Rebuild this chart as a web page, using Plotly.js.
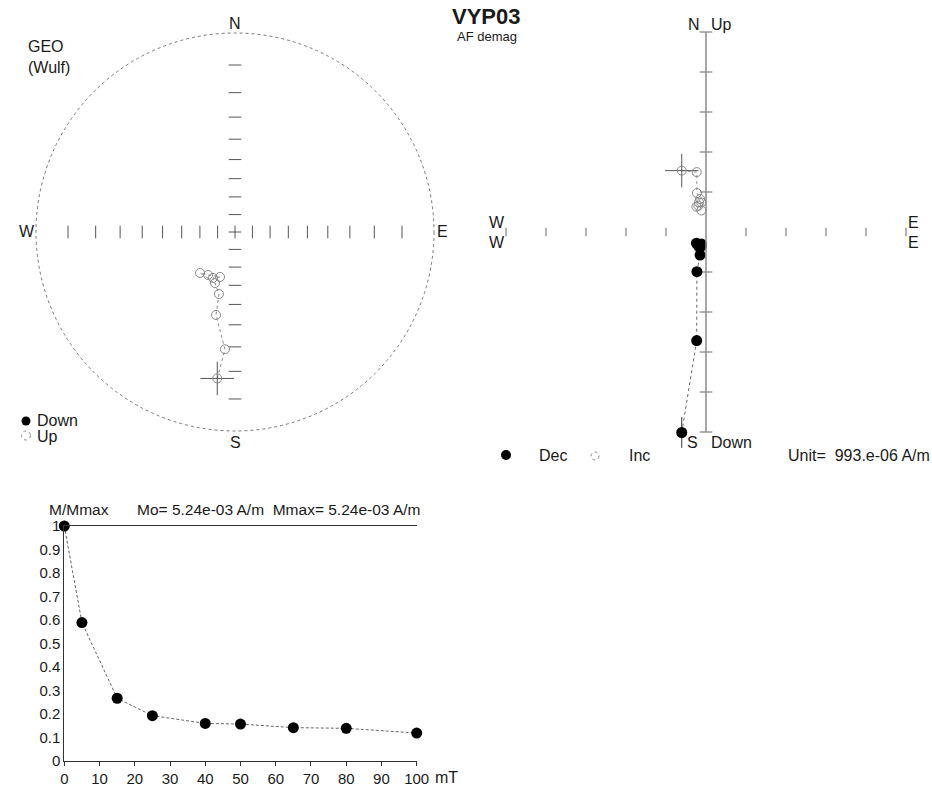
<!DOCTYPE html>
<html><head><meta charset="utf-8">
<script src="https://cdn.plot.ly/plotly-3.0.1.min.js"></script>
<style>html,body{margin:0;padding:0;background:#fff;}#chart{width:932px;height:787px;}</style>
</head><body><div id="chart"></div>
<script>
// ---- data ----
const steps  = [0, 5, 15, 25, 40, 50, 65, 80, 100];           // AF field, mT
const decl   = [186.9, 184.9, 192.9, 194.5, 205.6, 198.4, 212.1, 220.5, 201.4];
const incl   = [-16.9, -28.8, -43.7, -54.3, -61.3, -63.2, -61.4, -59.7, -59.2];
const mRatio = [1.0, 0.589, 0.267, 0.193, 0.160, 0.157, 0.142, 0.139, 0.119];
const moValue = 5.24e-3;     // A/m
const mmaxValue = 5.24e-3;   // A/m
const unitValue = 993e-6;    // A/m per Zijderveld tick
const stereoTickInc = [10, 20, 30, 40, 50, 60, 70, 80];
const zijTicks = [-5, -4, -3, -2, -1, 1, 2, 3, 4, 5];
const intTicksY = [0, 0.1, 0.2, 0.3, 0.4, 0.5, 0.6, 0.7, 0.8, 0.9, 1];

// ---- derived ----
const W = 932, H = 787;
const rad = d => d * Math.PI / 180;
const wulff = inc => Math.tan(rad((90 - Math.abs(inc)) / 2));
const sx = [], sy = [], zE = [], zN = [], zU = [];
for (let i = 0; i < steps.length; i++) {
  const r = wulff(incl[i]);
  sx.push(r * Math.sin(rad(decl[i])));
  sy.push(r * Math.cos(rad(decl[i])));
  const M = mRatio[i] * mmaxValue / unitValue;
  const h = M * Math.cos(rad(incl[i]));
  zE.push(h * Math.sin(rad(decl[i])));
  zN.push(h * Math.cos(rad(decl[i])));
  zU.push(-M * Math.sin(rad(incl[i])));
}
const tickR = stereoTickInc.map(wulff);
const tickRAll = tickR.map(v => -v).concat([0], tickR);

const FONT = 'Liberation Sans, Arial, Helvetica, sans-serif';
const px = x => x / W, py = y => 1 - y / H;
const ann = (text, x, y, xanchor, size, extra) => Object.assign({
  text, x: px(x), y: py(y), xref: 'paper', yref: 'paper', xanchor, yanchor: 'middle',
  showarrow: false, font: {family: FONT, size: size, color: '#1a1a1a'}
}, extra || {});
const openMk = (symbol, size, color, width) => ({symbol, size, color, line: {color, width}});

const traces = [
  // stereonet ticks
  {x: tickRAll, y: tickRAll.map(() => 0), xaxis: 'x', yaxis: 'y', mode: 'markers', hoverinfo: 'skip',
   marker: openMk('line-ns-open', 9, '#555', 1)},
  {x: tickRAll.map(() => 0), y: tickRAll, xaxis: 'x', yaxis: 'y', mode: 'markers', hoverinfo: 'skip',
   marker: openMk('line-ew-open', 9, '#555', 1)},
  // stereonet path
  {x: sx, y: sy, xaxis: 'x', yaxis: 'y', mode: 'lines', line: {color: '#888', width: 1, dash: 'dot'}, hoverinfo: 'skip'},
  {x: [sx[0]], y: [sy[0]], xaxis: 'x', yaxis: 'y', mode: 'markers', marker: openMk('cross-thin-open', 24, '#555', 1)},
  {x: sx, y: sy, xaxis: 'x', yaxis: 'y', mode: 'markers',
   marker: {symbol: incl.map(v => v >= 0 ? 'circle' : 'circle-open'), size: 9,
            color: incl.map(v => v >= 0 ? '#000' : '#888'), line: {color: '#888', width: 1}}},

  // Zijderveld ticks
  {x: zijTicks, y: zijTicks.map(() => 0), xaxis: 'x2', yaxis: 'y2', mode: 'markers', hoverinfo: 'skip',
   marker: openMk('line-ns-open', 6, '#666', 1)},
  {x: zijTicks.map(() => 0), y: zijTicks, xaxis: 'x2', yaxis: 'y2', mode: 'markers', hoverinfo: 'skip',
   marker: openMk('line-ew-open', 9, '#666', 1)},
  // Zijderveld horizontal projection (Dec)
  {x: [zE[0]], y: [zN[0]], xaxis: 'x2', yaxis: 'y2', mode: 'markers', marker: openMk('line-ns-open', 22, '#333', 1)},
  {x: zE, y: zN, xaxis: 'x2', yaxis: 'y2', mode: 'lines', line: {color: '#666', width: 1, dash: 'dot'}},
  {x: zE, y: zN, xaxis: 'x2', yaxis: 'y2', mode: 'markers', marker: {symbol: 'circle', size: 11, color: '#000'}},
  // Zijderveld vertical projection (Inc)
  {x: zE, y: zU, xaxis: 'x2', yaxis: 'y2', mode: 'lines', line: {color: '#999', width: 1, dash: 'dot'}},
  {x: [zE[0]], y: [zU[0]], xaxis: 'x2', yaxis: 'y2', mode: 'markers', marker: openMk('cross-thin-open', 24, '#555', 1)},
  {x: zE, y: zU, xaxis: 'x2', yaxis: 'y2', mode: 'markers', marker: openMk('circle-open', 9, '#888', 1)},

  // Intensity decay
  {x: steps, y: mRatio, xaxis: 'x3', yaxis: 'y3', mode: 'lines', line: {color: '#666', width: 1, dash: '3px,2px'}, cliponaxis: false},
  {x: steps, y: mRatio, xaxis: 'x3', yaxis: 'y3', mode: 'markers', marker: {size: 11, color: '#000'}, cliponaxis: false}
];

const sR = 220 / 199;
const tickFont = {family: FONT, size: 15, color: '#1a1a1a'};
const layout = {
  width: W, height: H, margin: {l: 0, r: 0, t: 0, b: 0},
  paper_bgcolor: '#fff', plot_bgcolor: 'rgba(0,0,0,0)', showlegend: false,
  font: {family: FONT, color: '#1a1a1a'},
  xaxis: {domain: [px(15), px(455)], range: [-sR, sR], visible: false, fixedrange: true, anchor: 'y'},
  yaxis: {domain: [py(452), py(12)], range: [-sR, sR], visible: false, fixedrange: true, anchor: 'x'},
  xaxis2: {domain: [px(486), px(926)], range: [-5.5, 5.5], visible: false, fixedrange: true, anchor: 'y2'},
  yaxis2: {domain: [py(452), py(12)], range: [-5.5, 5.5], visible: false, fixedrange: true, anchor: 'x2'},
  xaxis3: {domain: [px(64.3), px(416.7)], range: [0, 100], dtick: 10, tick0: 0, anchor: 'y3',
    showline: true, linecolor: '#333', linewidth: 1, mirror: true, ticks: 'outside', ticklen: 4, tickcolor: '#333',
    showgrid: false, zeroline: false, tickfont: tickFont, fixedrange: true},
  yaxis3: {domain: [py(761), py(526)], range: [0, 1], tickvals: intTicksY, ticktext: intTicksY.map(String), anchor: 'x3',
    showline: true, linecolor: '#333', linewidth: 1, ticks: '', showgrid: false, zeroline: false,
    tickfont: tickFont, fixedrange: true},
  shapes: [
    {type: 'circle', xref: 'x', yref: 'y', x0: -1, y0: -1, x1: 1, y1: 1, line: {color: '#777', width: 1, dash: 'dot'}},
    {type: 'line', xref: 'x2', yref: 'y2', x0: 0, y0: -5, x1: 0, y1: 5, line: {color: '#888', width: 1.5}},
    // legend symbols
    {type: 'circle', xref: 'paper', yref: 'paper', x0: px(21.5), x1: px(30.5), y0: py(425.5), y1: py(416.5), fillcolor: '#000', line: {width: 0}},
    {type: 'circle', xref: 'paper', yref: 'paper', x0: px(21.5), x1: px(30.5), y0: py(440), y1: py(431), line: {color: '#888', width: 1, dash: 'dot'}},
    {type: 'circle', xref: 'paper', yref: 'paper', x0: px(501), x1: px(511), y0: py(460), y1: py(450), fillcolor: '#000', line: {width: 0}},
    {type: 'circle', xref: 'paper', yref: 'paper', x0: px(591), x1: px(599), y0: py(460), y1: py(452), line: {color: '#888', width: 1, dash: 'dot'}}
  ],
  annotations: [
    ann('<b>VYP03</b>', 487, 17, 'center', 22),
    ann('AF demag', 487, 37, 'center', 13),
    ann('GEO', 26, 46.5, 'left', 16),
    ann('(Wulf)', 26, 67, 'left', 16),
    ann('N', 235, 23, 'center', 16),
    ann('S', 235, 442.5, 'center', 16),
    ann('W', 27, 231.5, 'center', 16),
    ann('E', 442.5, 231.5, 'center', 16),
    ann('Down', 35, 421, 'left', 16),
    ann('Up', 35, 436, 'left', 16),
    ann('N', 702, 24, 'right', 16),
    ann('Up', 709, 24, 'left', 16),
    ann('S', 700, 442.5, 'right', 16),
    ann('Down', 709, 442.5, 'left', 16),
    ann('W', 497, 222.5, 'center', 16),
    ann('W', 497, 242.5, 'center', 16),
    ann('E', 913, 222.5, 'center', 16),
    ann('E', 913, 242.5, 'center', 16),
    ann('Dec', 537, 455, 'left', 16),
    ann('Inc', 627, 455, 'left', 16),
    ann('Unit=\u00a0\u00a0' + (unitValue * 1e6).toFixed(0) + '.e-06 A/m', 786, 455, 'left', 16),
    ann('M/Mmax', 46.7, 509.5, 'left', 15.5),
    ann('Mo= ' + moValue.toExponential(2).replace('e-3', 'e-03') + ' A/m  Mmax= ' + mmaxValue.toExponential(2).replace('e-3', 'e-03') + ' A/m', 135, 509.5, 'left', 15.5),
    ann('mT', 433, 777, 'left', 16)
  ]
};
Plotly.newPlot('chart', traces, layout, {staticPlot: true, displayModeBar: false});
</script></body></html>
